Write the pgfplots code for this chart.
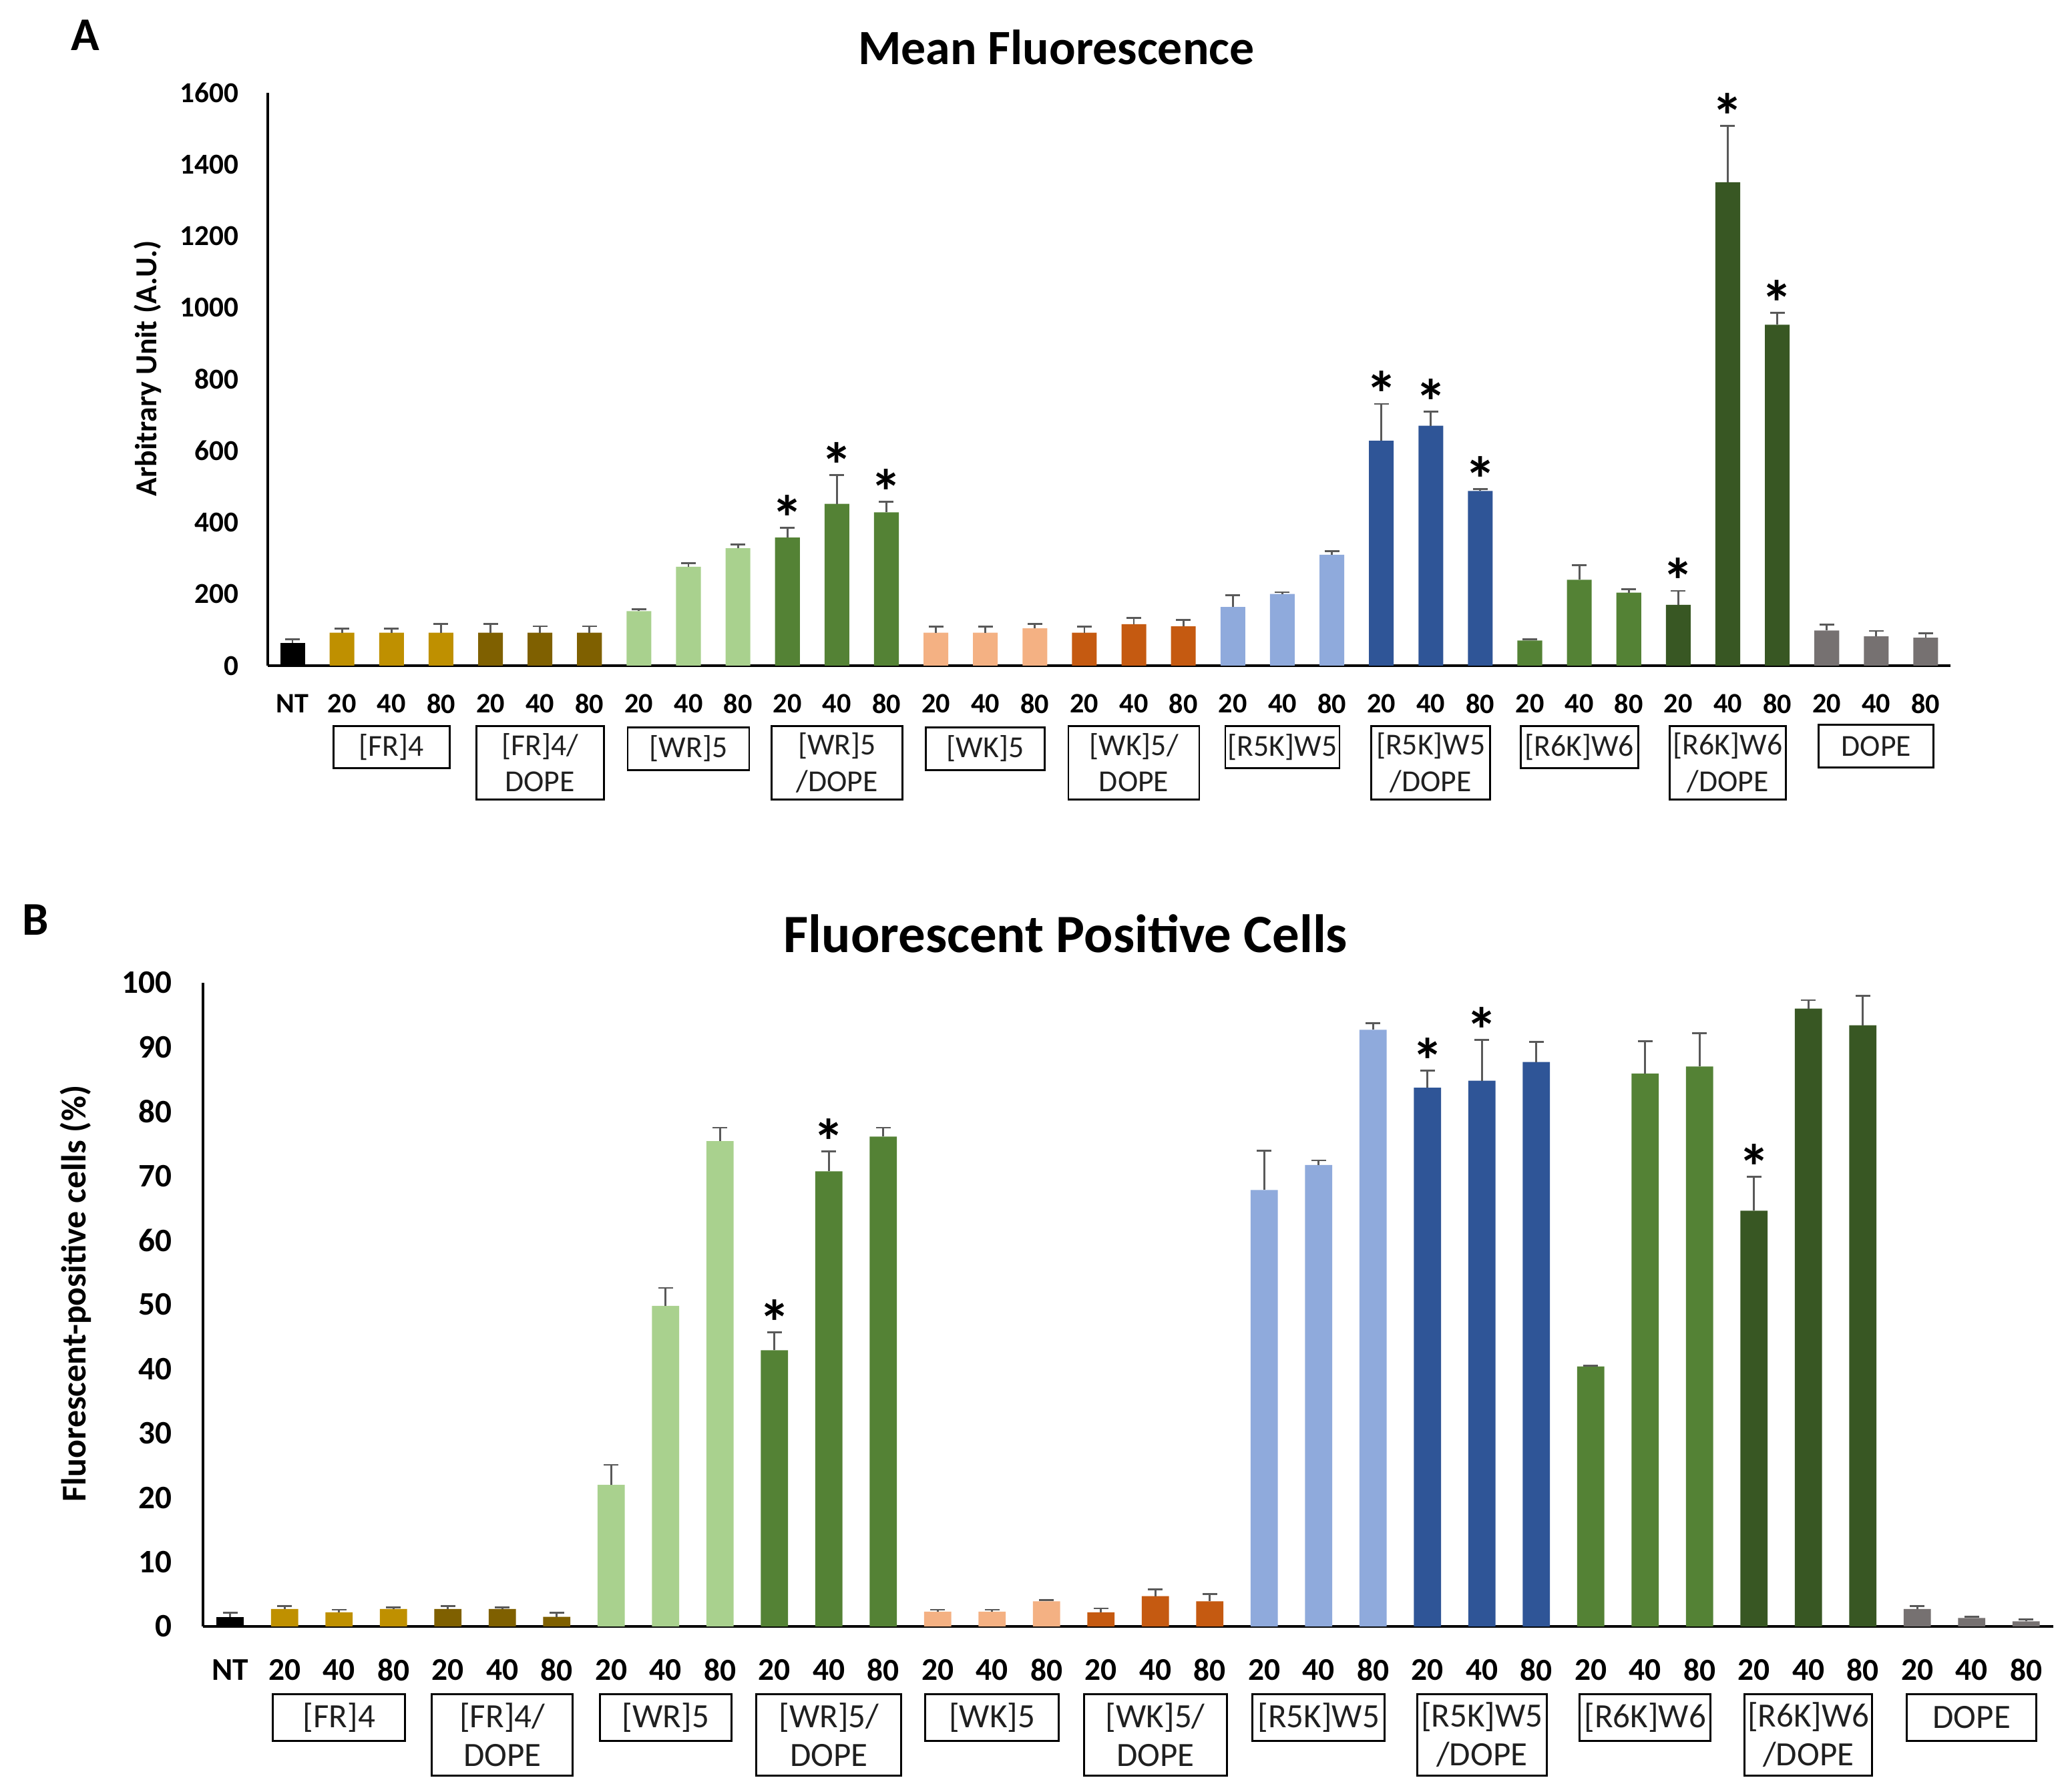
\documentclass[border=0pt]{standalone}
\usepackage{pgfplots}
\pgfplotsset{compat=1.18}
\usepackage{fontspec}
\setmainfont{Carlito}
\definecolor{cNT}{HTML}{000000}
\definecolor{cFR}{HTML}{BF9000}
\definecolor{cFRD}{HTML}{7F6000}
\definecolor{cWR}{HTML}{A9D18E}
\definecolor{cWRD}{HTML}{548235}
\definecolor{cWK}{HTML}{F4B183}
\definecolor{cWKD}{HTML}{C55A11}
\definecolor{cRF}{HTML}{8FAADC}
\definecolor{cRFD}{HTML}{2F5597}
\definecolor{cRS}{HTML}{548235}
\definecolor{cRSD}{HTML}{385723}
\definecolor{cDO}{HTML}{767171}
\definecolor{errc}{HTML}{595959}
\definecolor{boxtext}{HTML}{1F1F1F}
\pgfplotsset{
  errbar/.style={ybar, bar width=0.5, bar shift=0pt, draw=none, fill=#1,
    error bars/.cd, y dir=plus, y explicit, error mark=|,
    error bar style={line width=0.8pt, draw=errc},
    error mark options={line width=0.8pt, draw=errc, mark size=0.11cm}},
  stars/.style={draw=none, mark=none, nodes near coords={*},
    every node near coord/.append style={anchor=base, font=\bfseries\fontsize{#1}{#1}\selectfont, yshift=-0.19cm, inner sep=0pt}},
  common/.style={scale only axis, clip=false,
    axis x line=bottom, axis y line=left, axis line style={-, line width=1pt, black},
    xmin=-0.5, xmax=33.5, ymin=0,
    xtick={0,...,33}, tick style={draw=none}, major tick length=0pt,
    scaled y ticks=false,
    xticklabels={NT,20,40,80,20,40,80,20,40,80,20,40,80,20,40,80,20,40,80,20,40,80,20,40,80,20,40,80,20,40,80,20,40,80},
  }
}
\tikzset{gbox/.style={draw=black, line width=0.8pt, text=boxtext, align=center, inner sep=0pt, anchor=north}}
\begin{document}
\begin{tikzpicture}[x=1cm,y=1cm]
\path[use as bounding box] (0,0) rectangle (31,26.83);
% ---------------- Panel A ----------------
\begin{axis}[common, at={(4.01cm,16.86cm)}, anchor=south west,
  width=25.20cm, height=8.58cm, ymax=1600,
  ytick={0,200,400,600,800,1000,1200,1400,1600},
  yticklabels={0,200,400,600,800,1000,1200,1400,1600},
  yticklabel style={font=\bfseries\fontsize{12.3}{14}\selectfont, inner sep=0pt, anchor=east, xshift=-0.43cm},
  xticklabel style={font=\bfseries\fontsize{12}{14}\selectfont, inner sep=0pt, anchor=center, yshift=-0.57cm},
  ylabel={Arbitrary Unit (A.U.)},
  ylabel style={font=\bfseries\fontsize{13}{14}\selectfont, at={(rel axis cs:-0.0714,0.519)}, anchor=center, rotate=0},
]
\addplot[errbar=cNT] coordinates {(0,64) +- (0,10)};
\addplot[errbar=cFR] coordinates {(1,92) +- (0,12) (2,92) +- (0,12) (3,92) +- (0,24)};
\addplot[errbar=cFRD] coordinates {(4,92) +- (0,24) (5,92) +- (0,18) (6,92) +- (0,18)};
\addplot[errbar=cWR] coordinates {(7,152) +- (0,5) (8,276) +- (0,10) (9,328) +- (0,10)};
\addplot[errbar=cWRD] coordinates {(10,358) +- (0,27) (11,452) +- (0,81) (12,428) +- (0,30)};
\addplot[errbar=cWK] coordinates {(13,92) +- (0,17) (14,92) +- (0,17) (15,104) +- (0,12)};
\addplot[errbar=cWKD] coordinates {(16,92) +- (0,17) (17,116) +- (0,17) (18,110) +- (0,17)};
\addplot[errbar=cRF] coordinates {(19,164) +- (0,33) (20,200) +- (0,5) (21,310) +- (0,10)};
\addplot[errbar=cRFD] coordinates {(22,628) +- (0,103) (23,670) +- (0,39) (24,488) +- (0,5)};
\addplot[errbar=cRS] coordinates {(25,70) +- (0,4) (26,240) +- (0,40) (27,204) +- (0,10)};
\addplot[errbar=cRSD] coordinates {(28,170) +- (0,39) (29,1350) +- (0,158) (30,952) +- (0,33)};
\addplot[errbar=cDO] coordinates {(31,98) +- (0,17) (32,82) +- (0,15) (33,78) +- (0,13)};
\addplot[stars=27] coordinates {(10,385) (11,533) (12,458) (22,731) (23,709) (24,493) (28,209) (29,1508) (30,985)};
\begin{scope}[every node/.style={gbox, font=\fontsize{13}{15.4}\selectfont}]
\node[minimum width=1.74cm, minimum height=0.63cm, yshift=-0.89cm] at (axis cs:2,0) {[FR]4};
\node[minimum width=1.91cm, minimum height=1.10cm, yshift=-0.89cm] at (axis cs:5,0) {[FR]4/\\DOPE};
\node[minimum width=1.82cm, minimum height=0.64cm, yshift=-0.91cm] at (axis cs:8,0) {[WR]5};
\node[minimum width=1.96cm, minimum height=1.10cm, yshift=-0.89cm] at (axis cs:11,0) {[WR]5\\/DOPE};
\node[minimum width=1.78cm, minimum height=0.64cm, yshift=-0.91cm] at (axis cs:14,0) {[WK]5};
\node[minimum width=1.96cm, minimum height=1.10cm, yshift=-0.89cm] at (axis cs:17,0) {[WK]5/\\DOPE};
\node[minimum width=1.71cm, minimum height=0.63cm, yshift=-0.89cm] at (axis cs:20,0) {[R5K]W5};
\node[minimum width=1.78cm, minimum height=1.10cm, yshift=-0.89cm] at (axis cs:23,0) {[R5K]W5\\/DOPE};
\node[minimum width=1.76cm, minimum height=0.63cm, yshift=-0.89cm] at (axis cs:26,0) {[R6K]W6};
\node[minimum width=1.74cm, minimum height=1.10cm, yshift=-0.89cm] at (axis cs:29,0) {[R6K]W6\\/DOPE};
\node[minimum width=1.72cm, minimum height=0.64cm, yshift=-0.87cm] at (axis cs:32,0) {DOPE};
\end{scope}
\end{axis}
% ---------------- Panel B ----------------
\begin{axis}[common, at={(3.04cm,2.47cm)}, anchor=south west,
  width=27.71cm, height=9.64cm, ymax=100,
  ytick={0,10,20,30,40,50,60,70,80,90,100},
  yticklabels={0,10,20,30,40,50,60,70,80,90,100},
  yticklabel style={font=\bfseries\fontsize{14}{16}\selectfont, inner sep=0pt, anchor=east, xshift=-0.46cm},
  xticklabel style={font=\bfseries\fontsize{13.5}{16}\selectfont, inner sep=0pt, anchor=center, yshift=-0.65cm},
  ylabel={Fluorescent-positive cells (\%)},
  ylabel style={font=\bfseries\fontsize{14.8}{16}\selectfont, at={(rel axis cs:-0.0689,0.517)}, anchor=center, rotate=0},
]
\addplot[errbar=cNT] coordinates {(0,1.5) +- (0,0.6)};
\addplot[errbar=cFR] coordinates {(1,2.7) +- (0,0.5) (2,2.2) +- (0,0.4) (3,2.7) +- (0,0.3)};
\addplot[errbar=cFRD] coordinates {(4,2.7) +- (0,0.5) (5,2.7) +- (0,0.3) (6,1.5) +- (0,0.6)};
\addplot[errbar=cWR] coordinates {(7,22.0) +- (0,3.1) (8,49.8) +- (0,2.8) (9,75.4) +- (0,2.1)};
\addplot[errbar=cWRD] coordinates {(10,42.9) +- (0,2.8) (11,70.7) +- (0,3.1) (12,76.1) +- (0,1.4)};
\addplot[errbar=cWK] coordinates {(13,2.3) +- (0,0.3) (14,2.3) +- (0,0.3) (15,3.9) +- (0,0.2)};
\addplot[errbar=cWKD] coordinates {(16,2.2) +- (0,0.6) (17,4.7) +- (0,1.1) (18,3.9) +- (0,1.1)};
\addplot[errbar=cRF] coordinates {(19,67.8) +- (0,6.1) (20,71.7) +- (0,0.7) (21,92.7) +- (0,1.0)};
\addplot[errbar=cRFD] coordinates {(22,83.7) +- (0,2.7) (23,84.8) +- (0,6.3) (24,87.7) +- (0,3.1)};
\addplot[errbar=cRS] coordinates {(25,40.4) +- (0,0.1) (26,85.9) +- (0,5.0) (27,87.0) +- (0,5.2)};
\addplot[errbar=cRSD] coordinates {(28,64.6) +- (0,5.3) (29,96.0) +- (0,1.3) (30,93.4) +- (0,4.6)};
\addplot[errbar=cDO] coordinates {(31,2.7) +- (0,0.5) (32,1.3) +- (0,0.2) (33,0.8) +- (0,0.3)};
\addplot[stars=27] coordinates {(10,45.7) (11,73.8) (22,86.4) (23,91.1) (28,69.9)};
\begin{scope}[every node/.style={gbox, font=\fontsize{14.5}{16.6}\selectfont}]
\node[minimum width=1.98cm, minimum height=0.70cm, yshift=-1.00cm] at (axis cs:2,0) {[FR]4};
\node[minimum width=2.11cm, minimum height=1.22cm, yshift=-1.00cm] at (axis cs:5,0) {[FR]4/\\DOPE};
\node[minimum width=1.97cm, minimum height=0.70cm, yshift=-1.00cm] at (axis cs:8,0) {[WR]5};
\node[minimum width=2.17cm, minimum height=1.22cm, yshift=-1.00cm] at (axis cs:11,0) {[WR]5/\\DOPE};
\node[minimum width=2.00cm, minimum height=0.70cm, yshift=-1.00cm] at (axis cs:14,0) {[WK]5};
\node[minimum width=2.14cm, minimum height=1.22cm, yshift=-1.00cm] at (axis cs:17,0) {[WK]5/\\DOPE};
\node[minimum width=1.98cm, minimum height=0.70cm, yshift=-1.00cm] at (axis cs:20,0) {[R5K]W5};
\node[minimum width=1.94cm, minimum height=1.22cm, yshift=-1.00cm] at (axis cs:23,0) {[R5K]W5\\/DOPE};
\node[minimum width=1.96cm, minimum height=0.70cm, yshift=-1.00cm] at (axis cs:26,0) {[R6K]W6};
\node[minimum width=1.91cm, minimum height=1.22cm, yshift=-1.00cm] at (axis cs:29,0) {[R6K]W6\\/DOPE};
\node[minimum width=1.94cm, minimum height=0.70cm, yshift=-1.00cm] at (axis cs:32,0) {DOPE};
\end{scope}
\end{axis}
% titles and panel letters
\node[font=\bfseries\fontsize{21}{24}\selectfont] at (15.82,26.12) {Mean Fluorescence};
\node[font=\bfseries\fontsize{23}{26}\selectfont] at (15.96,12.85) {Fluorescent Positive Cells};
\node[font=\bfseries\fontsize{20}{24}\selectfont] at (1.28,26.30) {A};
\node[font=\bfseries\fontsize{20}{24}\selectfont] at (0.53,13.05) {B};
\end{tikzpicture}
\end{document}
